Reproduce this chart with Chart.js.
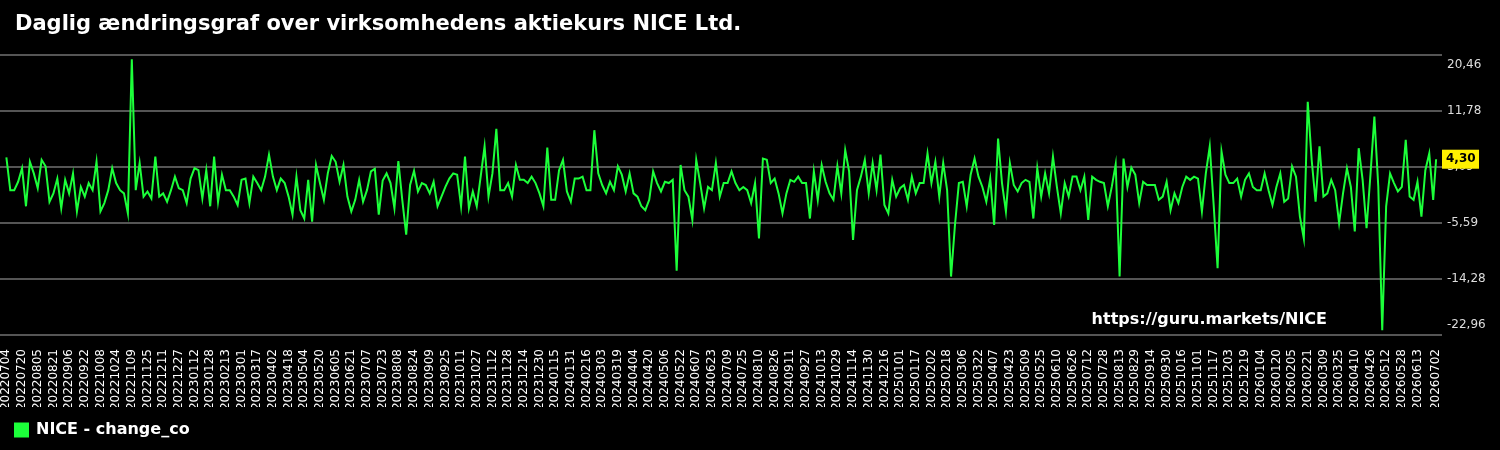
<!DOCTYPE html>
<html>
<head>
<meta charset="utf-8">
<title>NICE Ltd. daglig ændring</title>
<script src="https://cdn.jsdelivr.net/npm/chart.js@4.4.1/dist/chart.umd.min.js"></script>
<style>
    html, body { margin: 0; padding: 0; background: #000; }
    canvas { display: block; }
</style>
</head>
<body>
<canvas id="changeChart" width="1500" height="450"></canvas>
<script>
// Daily change (%), one value every 4 calendar days from 2022-07-04
const dayStep = 4;
const changeValues = [
    4.6, -0.5, -0.5, 0.8, 2.9, -3.0, 3.9, 2.1, -0.2, 4.2,
    3.2, -2.3, -1.0, 1.3, -3.3, 1.1, -1.0, 2.1, -3.8, 0.0,
    -1.5, 0.6, -0.5, 3.9, -3.8, -2.5, -0.5, 2.9, 0.6, -0.5,
    -1.0, -4.1, 19.8, -0.5, 3.7, -1.5, -0.7, -1.8, 4.7, -1.5,
    -1.0, -2.3, -0.5, 1.6, -0.2, -0.5, -2.5, 1.3, 2.9, 2.6,
    -1.8, 2.6, -3.0, 4.7, -2.3, 1.9, -0.5, -0.5, -1.5, -2.8,
    1.1, 1.3, -2.5, 1.6, 0.6, -0.5, 1.6, 5.0, 1.6, -0.5,
    1.3, 0.6, -1.5, -4.3, 1.6, -3.6, -4.9, 1.1, -5.4, 3.4,
    0.6,
    -2.0, 2.1, 4.8, 3.9, 0.8, 3.4, -1.5, -3.8, -2.0, 1.1,
    -2.3, -0.5, 2.4, 2.8, -4.3, 1.0, 2.1, 0.6, -3.3, 4.0,
    -2.0, -7.4, 0.3, 2.5, -0.7, 0.6, 0.3, -1.0, 0.8, -3.0,
    -1.5, 0.0, 1.3, 2.1, 1.9, -3.0, 4.7, -3.3, -0.7, -3.0,
    1.6, 6.3, -1.5, 2.1, 9.0, -0.5, -0.5, 0.6, -1.5, 3.4,
    1.1, 1.1, 0.6, 1.6, 0.6, -1.0, -3.0, 6.1, -2.0, -2.0,
    2.6, 4.2, -0.7, -2.3, 1.3, 1.3, 1.6, -0.5, -0.5, 8.8,
    2.1, 0.3, -1.0, 0.8, -0.5, 3.2, 1.9, -0.7, 2.1, -1.0,
    -1.5,
    -3.0, -3.6, -2.0, 2.4, 0.6, -0.7, 0.8, 0.6, 1.1, -13.0,
    3.4, -0.5, -1.5, -5.1, 4.2, 0.6, -3.3, 0.0, -0.5, 3.7,
    -1.5, 0.6, 0.6, 2.4, 0.6, -0.5, 0.0, -0.5, -2.5, 0.6,
    -8.0, 4.4, 4.2, 0.6, 1.3, -1.0, -4.1, -1.0, 1.1, 0.8,
    1.6,
    0.6, 0.6, -4.9, 2.4, -2.0, 3.4, 0.8, -1.0, -2.0, 3.2,
    -1.0, 5.7, 2.4, -8.2, -0.5, 1.6, 4.2, -1.0, 3.7, -0.5,
    5.0, -2.8, -4.1, 1.1, -1.5, -0.2, 0.3, -2.0, 1.6, -1.0,
    0.6, 0.6, 5.2, 0.6, 3.9, -1.5, 3.7, -0.5, -13.9, -5.9,
    0.6,
    0.8, -3.0, 1.9, 4.4, 1.6, 0.0, -2.3, 1.3, -5.9, 7.5,
    0.6, -3.8, 3.7, 0.3, -0.7, 0.6, 1.1, 0.8, -4.9, 2.9,
    -1.5, 2.1, -1.0, 4.7, 0.0, -4.1, 0.6, -1.5, 1.6, 1.6,
    -0.5, 1.6, -5.1, 1.6, 1.1, 0.8, 0.6, -3.0, 0.0, 3.5,
    -13.9,
    4.4, 0.0, 3.0, 1.9, -2.5, 0.8, 0.3, 0.3, 0.3, -2.0,
    -1.5, 0.8, -3.6, -1.0, -2.5, 0.0, 1.6, 1.1, 1.6, 1.3,
    -3.8, 2.1, 6.3, -2.8, -12.6, 5.5, 1.9, 0.6, 0.6, 1.3,
    -1.5, 1.1, 2.1, 0.0, -0.5, -0.5, 2.1, -0.5, -2.8, 0.0,
    2.1, -2.3, -1.8, 3.2, 1.6, -4.6, -8.0, 13.2, 4.2, -2.3,
    6.3, -1.5, -1.0, 1.1, -0.5, -5.6, -1.0, 2.9, 0.0, -6.9,
    6.0, 1.1, -6.4, 1.9, 10.9, 0.0, -22.2, -3.0, 2.1, 0.6,
    -0.7, 0.0, 7.3, -1.5, -2.0, 0.8, -4.6, 2.6, 5.2, -2.0
];
// last trading day in the chart (2026-07-02) and its change
const lastDay = 1459;
const lastValue = 4.30;

// right axis ticks
const yTicks = [-22.96, -14.28, -5.59, 3.09, 11.78, 20.46];
// bottom labels: every 16th day plus the last day
const xTickStep = 16;
const firstDate = Date.UTC(2022, 6, 4);

const lineColor = '#1cff3a';
const fontFamily = '"DejaVu Sans", Verdana, sans-serif';
Chart.defaults.font.family = fontFamily;

function dayLabel(day) {
    const d = new Date(firstDate + day * 86400000);
    const mm = String(d.getUTCMonth() + 1).padStart(2, '0');
    const dd = String(d.getUTCDate()).padStart(2, '0');
    return d.getUTCFullYear() + mm + dd;
}

const points = changeValues.map((v, i) => ({ x: i * dayStep, y: v }));
points.push({ x: lastDay, y: lastValue });

const tickDays = [];
for (let d = 0; lastDay - d >= xTickStep; d += xTickStep) tickDays.push(d);
tickDays.push(lastDay);

// title, right axis labels, last value tag and watermark
const decorPlugin = {
    id: 'decor',
    beforeDraw(chart) {
        const c = chart.ctx;
        c.save();
        c.fillStyle = '#000';
        c.fillRect(0, 0, chart.width, chart.height);
        c.restore();
    },
    afterDraw(chart) {
        const c = chart.ctx;
        const yScale = chart.scales.y;
        c.save();

        c.fillStyle = '#fff';
        c.textBaseline = 'middle';
        c.font = 'bold 21px ' + fontFamily;
        c.fillText('Daglig ændringsgraf over virksomhedens aktiekurs NICE Ltd.', 15, 25);

        c.font = '12px ' + fontFamily;
        c.fillStyle = '#ddd';
        yTicks.forEach((v, i) => {
            let y = yScale.getPixelForValue(v);
            if (i === 0) y -= 10;
            if (i === yTicks.length - 1) y += 10;
            c.fillText(v.toFixed(2).replace('.', ','), 1447, y);
        });

        const ty = yScale.getPixelForValue(lastValue);
        c.fillStyle = '#fff000';
        c.fillRect(1442, ty - 9.5, 37, 19);
        c.fillStyle = '#000';
        c.font = 'bold 12px ' + fontFamily;
        c.fillText(lastValue.toFixed(2).replace('.', ','), 1446, ty);

        c.fillStyle = '#fff';
        c.font = 'bold 16px ' + fontFamily;
        c.textAlign = 'right';
        c.fillText('https://guru.markets/NICE', 1327, 320);
        c.restore();
    }
};

new Chart(document.getElementById('changeChart'), {
    type: 'line',
    data: {
        datasets: [{
            label: 'NICE - change_co',
            data: points,
            borderColor: lineColor,
            backgroundColor: lineColor,
            borderWidth: 2,
            pointRadius: 0,
            tension: 0
        }]
    },
    options: {
        responsive: false,
        animation: false,
        layout: {
            padding: { top: 55, left: 0, right: 0, bottom: 2 }
        },
        plugins: {
            legend: {
                position: 'bottom',
                align: 'start',
                labels: {
                    color: '#fff',
                    boxWidth: 13,
                    boxHeight: 13,
                    padding: 15,
                    font: { size: 16, weight: 'bold' }
                }
            },
            tooltip: { enabled: false }
        },
        scales: {
            x: {
                type: 'linear',
                min: -6.5,
                max: 1465,
                grid: { display: false, drawTicks: false },
                border: { display: false },
                ticks: {
                    color: '#fff',
                    font: { size: 12 },
                    autoSkip: false,
                    minRotation: 90,
                    maxRotation: 90,
                    padding: 14,
                    callback: function (value) {
                        return dayLabel(value);
                    }
                },
                afterBuildTicks: function (scale) {
                    scale.ticks = tickDays.map(d => ({ value: d }));
                },
                afterFit: function (scale) {
                    scale.height = 72;
                    scale.paddingLeft = 0;
                    scale.paddingRight = 0;
                }
            },
            y: {
                position: 'right',
                min: -22.96,
                max: 20.46,
                grid: { color: '#555', lineWidth: 2, drawTicks: false },
                border: { display: false },
                ticks: { display: false },
                afterBuildTicks: function (scale) {
                    scale.ticks = yTicks.map(v => ({ value: v }));
                },
                afterFit: function (scale) {
                    scale.width = 58;
                }
            }
        }
    },
    plugins: [decorPlugin]
});
</script>
</body>
</html>
